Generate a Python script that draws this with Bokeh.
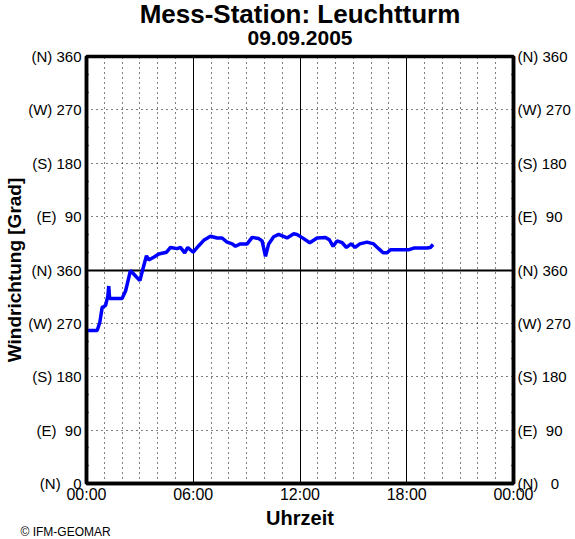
from bokeh.plotting import figure
from bokeh.models import Range1d, FixedTicker, LinearAxis, Grid, Title
from bokeh.embed import file_html
from bokeh.resources import INLINE

# ---- data ----
hours = [0.0, 0.6, 0.75, 0.88, 0.95, 1.07, 1.2, 1.25, 1.3, 1.35, 2.0, 2.2, 2.47, 2.6,
         3.0, 3.2, 3.37, 3.5, 3.8, 4.06, 4.5, 4.72, 5.1, 5.28, 5.52, 5.69, 6.0,
         6.31, 6.59, 6.97, 7.34, 7.62, 7.9, 8.19, 8.37, 8.65, 9.03, 9.31, 9.68,
         9.87, 10.06, 10.24, 10.52, 10.8, 11.27, 11.65, 11.83, 12.1, 12.55, 12.96,
         13.43, 13.65, 13.86, 14.08, 14.37, 14.61, 14.87, 15.1, 15.36, 15.77,
         16.14, 16.42, 16.67, 16.9, 17.08, 17.83, 18.1, 18.39, 19.14, 19.33, 19.48]
direction = [258, 258, 272, 297, 298, 300, 316, 333, 312, 312, 312, 325, 359, 355,
             342, 365, 384, 377, 382, 387, 390, 398, 396, 398, 389, 398, 390,
             401, 410, 417, 414, 414, 407, 404, 400, 404, 404, 415, 413,
             409, 383, 404, 416, 420, 414, 421, 420, 415, 406, 414,
             415, 411, 400, 409, 406, 398, 404, 398, 404, 407,
             404, 396, 389, 389, 394, 394, 394, 397, 397, 398, 403]

y_ticks = [0, 90, 180, 270, 360, 450, 540, 630, 720]
y_tick_labels = ["(N)   0", "(E)  90", "(S) 180", "(W) 270", "(N) 360",
                 "(E)  90", "(S) 180", "(W) 270", "(N) 360"]
y_minor = [30, 60, 120, 150, 210, 240, 300, 330, 390, 420, 480, 510, 570, 600, 660, 690]
x_ticks = [0, 6, 12, 18, 24]
x_tick_labels = ["00:00", "06:00", "12:00", "18:00", "00:00"]
x_hours = list(range(0, 25))

title = "Mess-Station: Leuchtturm"
subtitle = "09.09.2005"
x_label = "Uhrzeit"
y_label = "Windrichtung [Grad]"
credit = "\u00a9 IFM-GEOMAR"

FONT = "Liberation Sans"

p = figure(width=575, height=539,
           min_border_left=86, min_border_right=62,
           min_border_top=56, min_border_bottom=56,
           x_range=Range1d(0, 24), y_range=Range1d(0, 720),
           output_backend="svg", toolbar_location=None)
p.title = None
p.background_fill_color = "white"
p.border_fill_color = "white"
p.outline_line_color = "black"
p.outline_line_width = 3.5

y_over = {t: l.replace(" ", "\u00a0") for t, l in zip(y_ticks, y_tick_labels)}
x_over = {t: l for t, l in zip(x_ticks, x_tick_labels)}


def style_y(ax):
    ax.ticker = FixedTicker(ticks=y_ticks, minor_ticks=y_minor)
    ax.major_label_overrides = y_over
    ax.major_label_text_font = FONT
    ax.major_label_text_font_size = "15px"
    ax.major_label_text_color = "black"
    ax.major_label_standoff = 5
    ax.major_tick_in = 0
    ax.major_tick_out = 0
    ax.minor_tick_in = 2
    ax.minor_tick_out = 0
    ax.minor_tick_line_width = 1.5
    ax.minor_tick_line_color = "black"
    ax.axis_line_width = 3.5
    ax.axis_line_color = "black"


yl = p.yaxis[0]
style_y(yl)
yl.axis_label = y_label
yl.axis_label_text_font = FONT
yl.axis_label_text_font_style = "bold"
yl.axis_label_text_font_size = "19px"
yl.axis_label_text_color = "black"
yl.axis_label_standoff = 0

yr = LinearAxis()
style_y(yr)
yr.major_label_standoff = 4
p.add_layout(yr, "right")

xa = p.xaxis[0]
xa.ticker = FixedTicker(ticks=x_ticks, minor_ticks=[])
xa.major_label_overrides = x_over
xa.major_label_text_font = FONT
xa.major_label_text_font_size = "16px"
xa.major_label_text_color = "black"
xa.major_label_standoff = 2
xa.major_tick_in = 0
xa.major_tick_out = 0
xa.minor_tick_in = 0
xa.minor_tick_out = 0
xa.axis_line_width = 3.5
xa.axis_line_color = "black"
xa.axis_label = x_label
xa.axis_label_text_font = FONT
xa.axis_label_text_font_style = "bold"
xa.axis_label_text_font_size = "20px"
xa.axis_label_text_color = "black"
xa.axis_label_standoff = 1

# dotted hourly / 90-degree grid
p.xgrid.ticker = FixedTicker(ticks=x_hours)
p.xgrid.grid_line_color = "black"
p.xgrid.grid_line_width = 1
p.xgrid.grid_line_dash = "1 4"
p.ygrid.ticker = FixedTicker(ticks=[t for t in y_ticks if t not in (0, 360, 720)])
p.ygrid.grid_line_color = "black"
p.ygrid.grid_line_width = 1
p.ygrid.grid_line_dash = "1 4"

# solid lines at 6, 12, 18 h and at 360 degrees
p.add_layout(Grid(dimension=0, ticker=FixedTicker(ticks=[6, 12, 18]),
                  grid_line_color="black", grid_line_width=1))
p.add_layout(Grid(dimension=1, ticker=FixedTicker(ticks=[360]),
                  grid_line_color="black", grid_line_width=2))

p.line(hours, direction, line_color="#0000ff", line_width=3.5)

# titles (first added sits closest to the plot) and credit
p.add_layout(Title(text=subtitle, align="center", standoff=23,
                   text_font=FONT, text_font_size="21px", text_font_style="bold",
                   text_color="black"), "above")
p.add_layout(Title(text=title, align="center", standoff=-22,
                   text_font=FONT, text_font_size="26px", text_font_style="bold",
                   text_color="black"), "above")
p.add_layout(Title(text=credit, align="left", vertical_align="top", standoff=-14,
                   offset=-66, text_font=FONT, text_font_size="12px",
                   text_font_style="normal", text_color="black"), "below")

open("out.html", "w").write(file_html(p, INLINE))
